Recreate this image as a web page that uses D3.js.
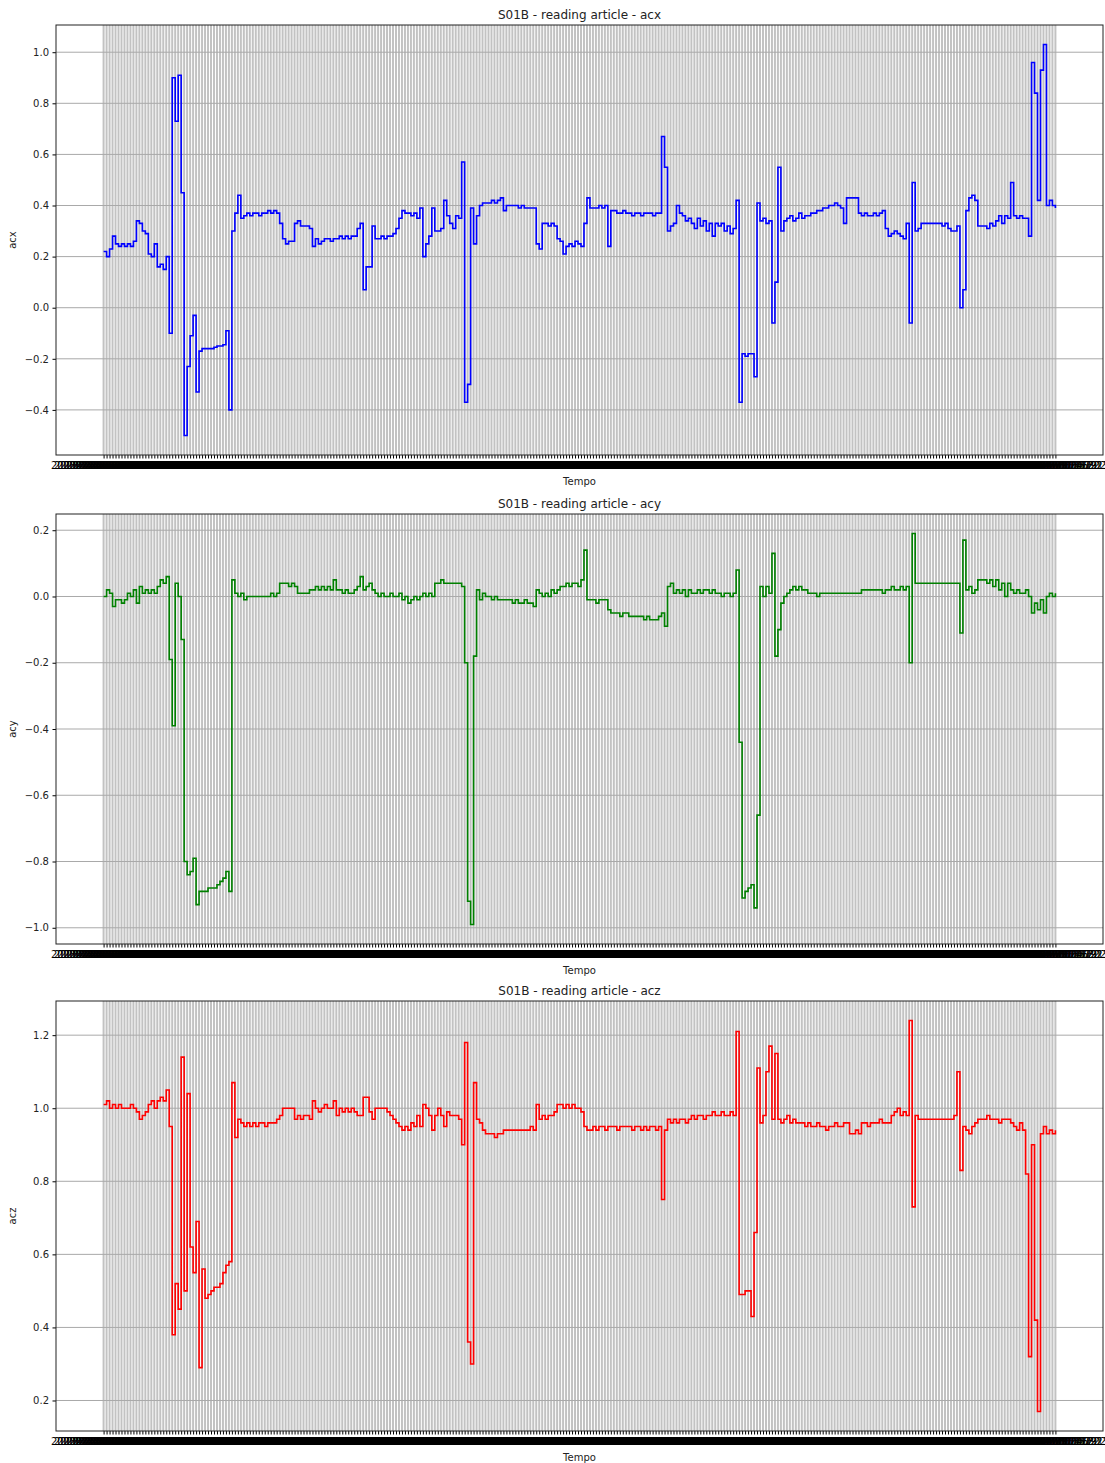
<!DOCTYPE html>
<html>
<head>
<meta charset="utf-8">
<script src="https://cdn.jsdelivr.net/npm/d3@7"></script>
<style>
    body { margin: 0; background: #fff; }
    text { font-family: "DejaVu Sans", sans-serif; }
</style>
</head>
<body>
<div id="chart"></div>
<script>

// session + channels
const sessionName = "S01B - reading article";
const channelNames = ["acx", "acy", "acz"];
const channelColors = ["blue", "green", "red"];

// x categories are the sample timestamps (one tick per sample)
const startTime = "2023-03-07 10:12:04";
const sampleStepMs = 1000;

// y tick labels of each panel
const acxTicks = [-0.4, -0.2, 0.0, 0.2, 0.4, 0.6, 0.8, 1.0];
const acyTicks = [-1.0, -0.8, -0.6, -0.4, -0.2, 0.0, 0.2];
const aczTicks = [0.2, 0.4, 0.6, 0.8, 1.0, 1.2];

const acx = [
    0.22, 0.20, 0.23, 0.28, 0.25, 0.24, 0.25, 0.24, 0.25, 0.24,
    0.26, 0.34, 0.33, 0.30, 0.29, 0.21, 0.20, 0.25, 0.16, 0.17,
    0.15, 0.20, -0.10, 0.90, 0.73, 0.91, 0.45, -0.50, -0.23, -0.11,
    -0.03, -0.33, -0.17, -0.16, -0.16, -0.16, -0.16, -0.155, -0.15, -0.15,
    -0.145, -0.09, -0.40, 0.30, 0.37, 0.44, 0.35, 0.36, 0.37, 0.36,
    0.37, 0.37, 0.36, 0.37, 0.37, 0.38, 0.37, 0.38, 0.37, 0.33,
    0.27, 0.25, 0.26, 0.26, 0.33, 0.34, 0.32, 0.32, 0.32, 0.31,
    0.24, 0.27, 0.25, 0.26, 0.27, 0.27, 0.26, 0.27, 0.27, 0.28,
    0.27, 0.28, 0.27, 0.28, 0.28, 0.31, 0.33, 0.07, 0.16, 0.16,
    0.32, 0.27, 0.27, 0.28, 0.27, 0.28, 0.28, 0.29, 0.31, 0.35,
    0.38, 0.37, 0.37, 0.36, 0.37, 0.35, 0.39, 0.20, 0.25, 0.28,
    0.39, 0.30, 0.30, 0.31, 0.42, 0.36, 0.33, 0.31, 0.36, 0.35,
    0.57, -0.37, -0.30, 0.39, 0.25, 0.36, 0.40, 0.41, 0.41, 0.41,
    0.42, 0.41, 0.42, 0.43, 0.38, 0.40, 0.40, 0.40, 0.40, 0.39,
    0.40, 0.39, 0.39, 0.39, 0.39, 0.25, 0.23, 0.33, 0.33, 0.32,
    0.33, 0.32, 0.27, 0.26, 0.21, 0.24, 0.25, 0.24, 0.26, 0.25,
    0.24, 0.33, 0.43, 0.39, 0.39, 0.39, 0.40, 0.39, 0.40, 0.24,
    0.38, 0.38, 0.37, 0.37, 0.38, 0.37, 0.37, 0.36, 0.37, 0.37,
    0.36, 0.37, 0.37, 0.37, 0.36, 0.37, 0.37, 0.67, 0.55, 0.30,
    0.32, 0.33, 0.40, 0.37, 0.36, 0.34, 0.35, 0.33, 0.31, 0.35,
    0.32, 0.34, 0.30, 0.33, 0.28, 0.33, 0.32, 0.33, 0.30, 0.32,
    0.29, 0.31, 0.42, -0.37, -0.18, -0.19, -0.18, -0.18, -0.27, 0.41,
    0.34, 0.35, 0.33, 0.34, -0.06, 0.10, 0.55, 0.30, 0.34, 0.35,
    0.36, 0.34, 0.35, 0.37, 0.35, 0.36, 0.36, 0.37, 0.37, 0.38,
    0.38, 0.39, 0.39, 0.40, 0.40, 0.41, 0.40, 0.39, 0.33, 0.43,
    0.43, 0.43, 0.43, 0.37, 0.36, 0.37, 0.36, 0.36, 0.37, 0.36,
    0.37, 0.38, 0.31, 0.28, 0.29, 0.30, 0.29, 0.28, 0.27, 0.33,
    -0.06, 0.49, 0.30, 0.31, 0.33, 0.33, 0.33, 0.33, 0.33, 0.33,
    0.33, 0.32, 0.33, 0.31, 0.30, 0.30, 0.32, 0.00, 0.07, 0.38,
    0.43, 0.44, 0.42, 0.32, 0.32, 0.32, 0.31, 0.33, 0.32, 0.34,
    0.36, 0.33, 0.36, 0.35, 0.49, 0.36, 0.35, 0.36, 0.35, 0.35,
    0.28, 0.96, 0.84, 0.42, 0.93, 1.03, 0.40, 0.42, 0.40, 0.39
];

const acy = [
    0.00, 0.02, 0.01, -0.03, -0.01, -0.01, -0.02, -0.01, 0.01, 0.00,
    0.02, -0.02, 0.03, 0.01, 0.02, 0.01, 0.02, 0.01, 0.03, 0.05,
    0.04, 0.06, -0.19, -0.39, 0.04, 0.00, -0.13, -0.80, -0.84, -0.83,
    -0.79, -0.93, -0.89, -0.89, -0.89, -0.88, -0.88, -0.88, -0.87, -0.86,
    -0.85, -0.83, -0.89, 0.05, 0.01, 0.00, 0.01, -0.01, 0.00, 0.00,
    0.00, 0.00, 0.00, 0.00, 0.00, 0.00, 0.01, 0.00, 0.01, 0.04,
    0.04, 0.04, 0.03, 0.04, 0.03, 0.01, 0.01, 0.01, 0.01, 0.02,
    0.02, 0.03, 0.02, 0.03, 0.02, 0.03, 0.02, 0.05, 0.02, 0.02,
    0.01, 0.02, 0.01, 0.01, 0.02, 0.03, 0.06, 0.02, 0.03, 0.04,
    0.02, 0.01, 0.00, 0.01, 0.00, 0.00, 0.01, 0.00, 0.00, 0.01,
    -0.01, 0.00, -0.02, -0.01, 0.00, -0.01, 0.00, 0.01, 0.00, 0.01,
    0.00, 0.04, 0.04, 0.05, 0.04, 0.04, 0.04, 0.04, 0.04, 0.04,
    0.03, -0.20, -0.92, -0.99, -0.18, 0.02, -0.01, 0.01, 0.00, 0.00,
    -0.01, 0.00, -0.01, -0.01, -0.01, -0.01, -0.01, -0.02, -0.01, -0.02,
    -0.02, -0.01, -0.02, -0.02, -0.03, 0.02, 0.01, 0.00, 0.01, 0.00,
    0.02, 0.01, 0.02, 0.03, 0.03, 0.04, 0.03, 0.04, 0.04, 0.03,
    0.05, 0.14, -0.01, -0.01, -0.01, -0.02, -0.01, -0.01, -0.01, -0.04,
    -0.05, -0.05, -0.05, -0.06, -0.05, -0.05, -0.06, -0.06, -0.06, -0.06,
    -0.06, -0.07, -0.06, -0.07, -0.07, -0.07, -0.06, -0.05, -0.09, 0.03,
    0.04, 0.01, 0.02, 0.01, 0.02, 0.00, 0.02, 0.01, 0.01, 0.02,
    0.01, 0.02, 0.02, 0.01, 0.02, 0.01, 0.01, 0.00, 0.01, 0.01,
    0.00, 0.01, 0.08, -0.44, -0.91, -0.89, -0.88, -0.87, -0.94, -0.66,
    0.03, 0.00, 0.03, 0.01, 0.13, -0.18, -0.10, -0.02, 0.00, 0.01,
    0.02, 0.03, 0.02, 0.03, 0.02, 0.02, 0.01, 0.01, 0.01, 0.00,
    0.01, 0.01, 0.01, 0.01, 0.01, 0.01, 0.01, 0.01, 0.01, 0.01,
    0.01, 0.01, 0.01, 0.01, 0.02, 0.02, 0.02, 0.02, 0.02, 0.02,
    0.02, 0.01, 0.02, 0.02, 0.03, 0.02, 0.02, 0.03, 0.02, 0.03,
    -0.20, 0.19, 0.04, 0.04, 0.04, 0.04, 0.04, 0.04, 0.04, 0.04,
    0.04, 0.04, 0.04, 0.04, 0.04, 0.04, 0.04, -0.11, 0.17, 0.02,
    0.03, 0.01, 0.02, 0.05, 0.05, 0.05, 0.04, 0.05, 0.03, 0.05,
    0.02, 0.04, 0.00, 0.04, 0.02, 0.01, 0.02, 0.01, 0.01, 0.02,
    0.00, -0.05, -0.02, -0.04, -0.01, -0.05, 0.00, 0.01, 0.00, 0.01
];

const acz = [
    1.01, 1.02, 1.00, 1.01, 1.00, 1.01, 1.00, 1.00, 1.00, 1.01,
    1.00, 0.99, 0.97, 0.98, 0.99, 1.01, 1.02, 1.00, 1.02, 1.03,
    1.02, 1.05, 0.95, 0.38, 0.52, 0.45, 1.14, 0.50, 1.04, 0.62,
    0.55, 0.69, 0.29, 0.56, 0.48, 0.49, 0.50, 0.51, 0.51, 0.52,
    0.55, 0.57, 0.58, 1.07, 0.92, 0.97, 0.96, 0.95, 0.96, 0.95,
    0.96, 0.95, 0.96, 0.96, 0.95, 0.96, 0.96, 0.96, 0.97, 0.98,
    1.00, 1.00, 1.00, 1.00, 0.97, 0.98, 0.97, 0.98, 0.98, 0.97,
    1.02, 1.00, 0.99, 1.00, 1.01, 1.00, 1.00, 1.02, 0.98, 1.00,
    0.99, 1.00, 0.99, 1.00, 0.99, 0.98, 0.98, 1.03, 1.03, 0.99,
    0.97, 1.00, 1.00, 1.00, 1.00, 0.99, 0.98, 0.97, 0.96, 0.95,
    0.94, 0.95, 0.94, 0.96, 0.95, 0.98, 0.95, 1.01, 1.00, 0.98,
    0.94, 0.98, 1.00, 0.98, 0.95, 0.99, 0.98, 0.98, 0.98, 0.97,
    0.90, 1.18, 0.36, 0.30, 1.07, 0.97, 0.96, 0.94, 0.93, 0.93,
    0.93, 0.92, 0.93, 0.93, 0.94, 0.94, 0.94, 0.94, 0.94, 0.94,
    0.94, 0.94, 0.94, 0.95, 0.94, 1.01, 0.97, 0.98, 0.97, 0.98,
    0.98, 0.99, 1.01, 1.01, 1.00, 1.01, 1.00, 1.01, 1.00, 1.00,
    0.99, 0.95, 0.94, 0.94, 0.95, 0.94, 0.95, 0.95, 0.94, 0.95,
    0.95, 0.95, 0.94, 0.95, 0.95, 0.95, 0.95, 0.94, 0.95, 0.95,
    0.94, 0.95, 0.94, 0.95, 0.95, 0.94, 0.95, 0.75, 0.94, 0.97,
    0.96, 0.97, 0.96, 0.97, 0.97, 0.96, 0.97, 0.98, 0.97, 0.98,
    0.98, 0.97, 0.98, 0.98, 0.99, 0.98, 0.98, 0.99, 0.98, 0.98,
    0.99, 0.98, 1.21, 0.49, 0.49, 0.50, 0.50, 0.43, 0.66, 1.11,
    0.96, 0.98, 1.10, 1.17, 0.97, 1.15, 0.97, 0.96, 0.97, 0.98,
    0.96, 0.97, 0.96, 0.96, 0.96, 0.95, 0.96, 0.95, 0.95, 0.96,
    0.95, 0.95, 0.94, 0.95, 0.95, 0.96, 0.95, 0.95, 0.96, 0.96,
    0.93, 0.93, 0.94, 0.93, 0.96, 0.96, 0.95, 0.96, 0.96, 0.96,
    0.97, 0.96, 0.96, 0.96, 0.98, 0.99, 1.00, 0.98, 0.99, 0.98,
    1.24, 0.73, 0.98, 0.97, 0.97, 0.97, 0.97, 0.97, 0.97, 0.97,
    0.97, 0.97, 0.97, 0.97, 0.97, 0.98, 1.10, 0.83, 0.95, 0.94,
    0.93, 0.95, 0.96, 0.97, 0.97, 0.97, 0.98, 0.97, 0.97, 0.97,
    0.96, 0.97, 0.97, 0.97, 0.96, 0.95, 0.94, 0.96, 0.94, 0.82,
    0.32, 0.90, 0.42, 0.17, 0.93, 0.95, 0.93, 0.94, 0.93, 0.94
];

// category labels for the x axis
const parseTime = d3.timeParse("%Y-%m-%d %H:%M:%S");
const formatTime = d3.timeFormat("%Y-%m-%d %H:%M:%S");
const t0 = parseTime(startTime).getTime();
const tempo = acx.map((d, i) => formatTime(new Date(t0 + i * sampleStepMs)));


class SensorPanel {
    constructor(svg, cfg) {
        this.svg = svg;
        this.cfg = cfg;
        this.initVis();
    }

    initVis() {
        let vis = this;
        let cfg = vis.cfg;

        vis.left = 56;
        vis.right = 1103;
        vis.top = cfg.top;
        vis.bottom = cfg.top + cfg.height;

        vis.g = vis.svg.append("g");

        // categorical x, matplotlib style 5% margins
        let n = cfg.labels.length;
        vis.x = d3.scaleLinear()
            .domain([-0.05 * (n - 1), 1.05 * (n - 1)])
            .range([vis.left, vis.right]);

        let ext = d3.extent(cfg.values);
        let pad = (ext[1] - ext[0]) * 0.05;
        vis.y = d3.scaleLinear()
            .domain([ext[0] - pad, ext[1] + pad])
            .range([vis.bottom, vis.top]);

        // vertical grid, one per category
        vis.g.append("g")
            .selectAll("line")
            .data(cfg.labels)
            .enter()
            .append("line")
            .attr("x1", (d, i) => vis.x(i))
            .attr("x2", (d, i) => vis.x(i))
            .attr("y1", vis.top)
            .attr("y2", vis.bottom)
            .attr("stroke", "#c2c2c2")
            .attr("stroke-width", 2);

        // horizontal grid
        vis.g.append("g")
            .selectAll("line")
            .data(cfg.ticks)
            .enter()
            .append("line")
            .attr("x1", vis.left)
            .attr("x2", vis.right)
            .attr("y1", d => vis.y(d))
            .attr("y2", d => vis.y(d))
            .attr("stroke", "#a9a9a9")
            .attr("stroke-width", 1);

        // the signal (step look of the dense recording)
        let line = d3.line()
            .x((d, i) => vis.x(i))
            .y(d => vis.y(d))
            .curve(d3.curveStepAfter);

        vis.g.append("path")
            .datum(cfg.values)
            .attr("d", line)
            .attr("fill", "none")
            .attr("stroke", cfg.color)
            .attr("stroke-width", 1.6);

        // y axis
        let yAxis = d3.axisLeft(vis.y)
            .tickValues(cfg.ticks)
            .tickFormat(d3.format(".1f"))
            .tickSize(3.5)
            .tickPadding(3.5);

        vis.g.append("g")
            .attr("transform", "translate(" + vis.left + ",0)")
            .call(yAxis)
            .call(g => g.select(".domain").remove())
            .selectAll("text")
            .attr("font-size", 10)
            .attr("fill", "#222")
            .attr("font-family", "DejaVu Sans, sans-serif");

        // x axis, every timestamp is a tick (labels pile into a band)
        let xAxis = d3.axisBottom(vis.x)
            .tickValues(d3.range(n))
            .tickFormat(i => cfg.labels[i])
            .tickSize(3.5)
            .tickPadding(3);

        vis.g.append("g")
            .attr("transform", "translate(0," + vis.bottom + ")")
            .call(xAxis)
            .call(g => g.select(".domain").remove())
            .selectAll("text")
            .attr("font-size", 10)
            .attr("fill", "#000")
            .attr("font-family", "DejaVu Sans, sans-serif");

        // frame
        vis.g.append("rect")
            .attr("x", vis.left)
            .attr("y", vis.top)
            .attr("width", vis.right - vis.left)
            .attr("height", vis.bottom - vis.top)
            .attr("fill", "none")
            .attr("stroke", "#222")
            .attr("stroke-width", 1);

        // texts
        vis.g.append("text")
            .attr("x", (vis.left + vis.right) / 2)
            .attr("y", vis.top - 6)
            .attr("text-anchor", "middle")
            .attr("font-size", 12)
            .attr("fill", "#222")
            .text(cfg.title);

        vis.g.append("text")
            .attr("x", (vis.left + vis.right) / 2)
            .attr("y", vis.bottom + 30)
            .attr("text-anchor", "middle")
            .attr("font-size", 10)
            .attr("fill", "#222")
            .text("Tempo");

        vis.g.append("text")
            .attr("transform", "translate(16," + ((vis.top + vis.bottom) / 2) + ") rotate(-90)")
            .attr("text-anchor", "middle")
            .attr("font-size", 10)
            .attr("fill", "#222")
            .text(cfg.ylabel);
    }
}

let svg = d3.select("#chart")
    .append("svg")
    .attr("width", 1105)
    .attr("height", 1463);

let series = [acx, acy, acz];
let tickSets = [acxTicks, acyTicks, aczTicks];
let panelTops = [25, 514, 1001];

series.forEach((vals, k) => {
    new SensorPanel(svg, {
        top: panelTops[k],
        height: 430,
        values: vals,
        labels: tempo,
        ticks: tickSets[k],
        color: channelColors[k],
        title: sessionName + " - " + channelNames[k],
        ylabel: channelNames[k]
    });
});

</script>
</body>
</html>
